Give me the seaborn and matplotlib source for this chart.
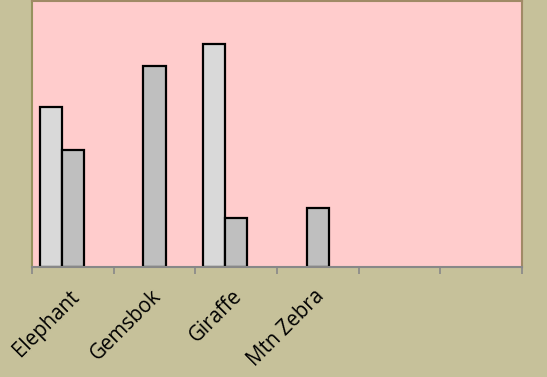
import matplotlib
matplotlib.use("Agg")
import matplotlib.pyplot as plt
import matplotlib.transforms as mtransforms
import numpy as np
import pandas as pd
import seaborn as sns

# Animal categories (two trailing slots are empty)
categories = ["Elephant", "Gemsbok", "Giraffe", "Mtn Zebra", "", " "]
series_names = ["Series 1", "Series 2", "Series 3"]
series1 = [36.2, np.nan, 50.3, np.nan, np.nan, np.nan]
series2 = [26.3, 45.3, 11.1, 13.4, np.nan, np.nan]
series3 = [np.nan] * 6

rows = []
for name, vals in zip(series_names, [series1, series2, series3]):
    for cat, v in zip(categories, vals):
        rows.append({"animal": cat, "series": name, "value": v})
df = pd.DataFrame(rows)

sns.set_theme(style="white")
plt.rcParams["font.family"] = ["Open Sans", "DejaVu Sans"]

fig = plt.figure(figsize=(5.47, 3.77), dpi=100)
fig.patch.set_facecolor("#C6C19A")
ax = fig.add_axes([32 / 547, (377 - 267) / 377, 490 / 547, 266 / 377])
ax.set_facecolor("#FFCCCC")

palette = {"Series 1": "#D9D9D9", "Series 2": "#BFBFBF", "Series 3": "#A6A6A6"}
sns.barplot(data=df, x="animal", y="value", hue="series", order=categories,
            hue_order=series_names, palette=palette, width=0.81, dodge=True,
            edgecolor="black", linewidth=1.6, saturation=1, errorbar=None,
            legend=False, ax=ax)

ax.set_xlim(-0.5, len(categories) - 0.5)
ax.set_ylim(0, 60)
ax.set_xlabel("")
ax.set_ylabel("")
ax.set_yticks([])

# Tick marks sit on category boundaries; labels sit at category centres
ax.set_xticks(np.arange(-0.5, len(categories), 1.0))
ax.set_xticklabels([])
ax.tick_params(axis="x", which="major", direction="out", length=5, width=1.2,
               color="#888888", bottom=True)
offset = mtransforms.ScaledTranslation(3 / 100, -26.5 / 100, fig.dpi_scale_trans)
for i, cat in enumerate(categories):
    if cat.strip():
        ax.text(i, 0, cat, rotation=45, ha="right", va="center",
                rotation_mode="anchor", fontsize=14.8, color="black",
                transform=ax.get_xaxis_transform() + offset)

for side in ["top", "right"]:
    ax.spines[side].set_color("#A08A66")
    ax.spines[side].set_linewidth(1.5)
ax.spines["left"].set_color("#96925E")
ax.spines["left"].set_linewidth(1.5)
ax.spines["bottom"].set_color("#888888")
ax.spines["bottom"].set_linewidth(1.5)

fig.savefig("out.png", dpi=100, facecolor=fig.get_facecolor())
